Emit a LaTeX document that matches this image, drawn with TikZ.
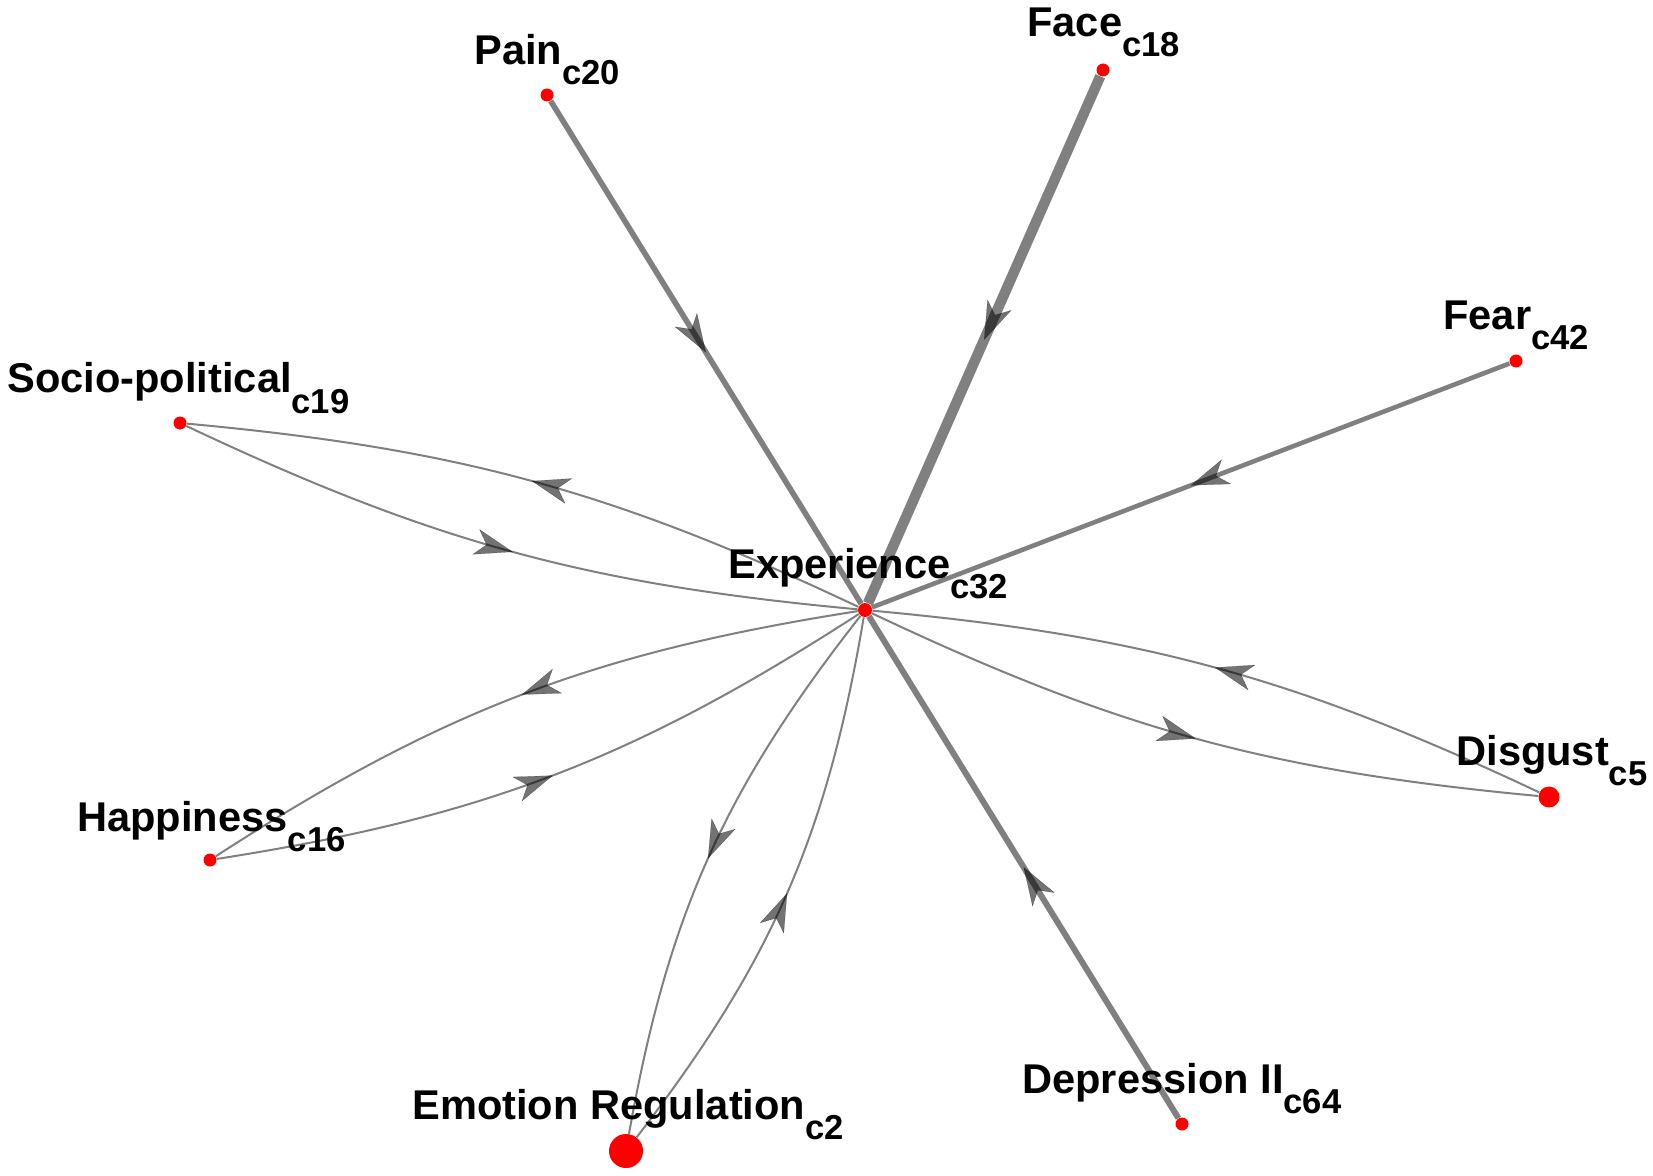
\documentclass[tikz,border=0pt]{standalone}
\usepackage{fontspec}
\setmainfont{Liberation Sans}
\usetikzlibrary{arrows.meta,decorations.markings,backgrounds}

\newcommand{\clab}[2]{\textbf{#1}\raisebox{-10pt}{\fontsize{17.3pt}{17pt}\selectfont\textbf{#2}}}

\begin{document}
\begin{tikzpicture}[x=0.5pt, y=0.5pt]

\tikzstyle{dot1}=[circle, fill=red, inner sep=0pt, minimum size=6.5pt]
\tikzstyle{dot2}=[circle, fill=red, inner sep=0pt, minimum size=10.5pt]
\tikzstyle{dot3}=[circle, fill=red, inner sep=0pt, minimum size=17pt]
\tikzstyle{lab}=[anchor=base west, inner sep=0pt, font=\fontsize{20.8pt}{24pt}\selectfont]
\tikzstyle{arrow}=[draw=gray, line width=1pt, postaction={decorate},
  decoration={markings, mark=at position 0.5 with {\arrow[black, opacity=0.55, line width=0.1pt]{Stealth[length=19pt, width=13pt, inset=5.5pt]}}}]

\useasboundingbox (0,0) rectangle (1653,-1176);

% dots
\node (E) [dot1, minimum size=7pt] at (865,-610) {};
\node (P) [dot1] at (547,-95) {};
\node (F) [dot1] at (1103,-70) {};
\node (R) [dot1] at (1516,-361) {};
\node (S) [dot1] at (180,-423) {};
\node (H) [dot1] at (210,-860) {};
\node (G) [dot3] at (626,-1151) {};
\node (D) [dot1] at (1182,-1124) {};
\node (X) [dot2] at (1549,-797) {};

% labels
\node (Elab) [lab] at (728,-578) {\clab{Experience}{c32}};
\node (Plab) [lab] at (474,-65) {\clab{Pain}{c20}};
\node (Flab) [lab] at (1027,-37) {\clab{Face}{c18}};
\node (Rlab) [lab] at (1443,-329) {\clab{Fear}{c42}};
\node (Slab) [lab] at (7,-393) {\clab{Socio-political}{c19}};
\node (Hlab) [lab] at (77,-831) {\clab{Happiness}{c16}};
\node (Glab) [lab] at (412,-1119) {\clab{Emotion Regulation}{c2}};
\node (Dlab) [lab] at (1022,-1093) {\clab{Depression II}{c64}};
\node (Xlab) [lab] at (1456,-765) {\clab{Disgust}{c5}};

\begin{scope}[on background layer]
\draw [arrow, line width=2.8pt] (P) -- (E);
\draw [arrow, line width=5.2pt] (F) -- (E);
\draw [arrow, line width=2.3pt] (R) -- (E);
\draw [arrow, line width=3pt] (D) -- (E);

\draw [arrow] (E) to[bend right=10] (S);
\draw [arrow] (S) to[bend right=10] (E);
\draw [arrow] (E) to[bend right=12] (H);
\draw [arrow] (H) to[bend right=12] (E);
\draw [arrow] (E) to[bend right=14] (G);
\draw [arrow] (G) to[bend right=14] (E);
\draw [arrow] (E) to[bend right=10] (X);
\draw [arrow] (X) to[bend right=10] (E);
\end{scope}

\end{tikzpicture}
\end{document}
